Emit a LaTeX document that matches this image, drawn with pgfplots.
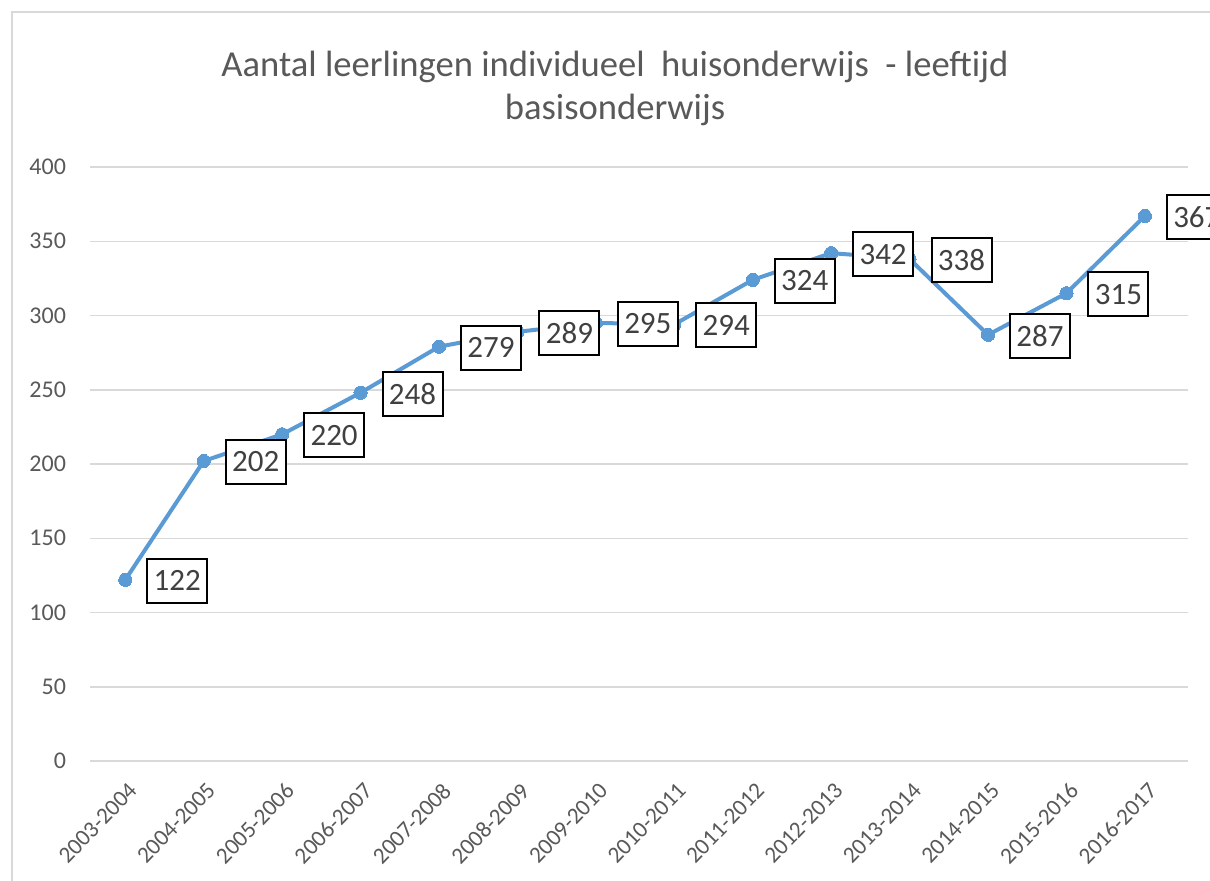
\documentclass[border=0pt]{standalone}
\usepackage{pgfplots}
\pgfplotsset{compat=1.18}
\usepackage{fontspec}
\setmainfont{Carlito}
\definecolor{linec}{HTML}{5B9BD5}
\definecolor{txt}{HTML}{595959}
\definecolor{gridc}{HTML}{D9D9D9}
\definecolor{lbl}{HTML}{404040}
\begin{document}
\begin{tikzpicture}
\useasboundingbox (0,0) rectangle (605pt,-440.5pt);
\fill[white] (0,0) rectangle (605pt,-440.5pt);
\draw[gridc, line width=1pt] (6pt,-6pt) rectangle (640pt,-480pt);
\node[align=center, text=txt, font=\fontsize{18.3}{21.5}\selectfont] at (307.5pt,-44pt)
  {Aantal leerlingen individueel\ \ huisonderwijs\ \ - leeftijd\\basisonderwijs};
\begin{axis}[
  at={(45pt,-380.5pt)}, anchor=south west,
  width=549pt, height=297pt, scale only axis,
  xmin=-0.45, xmax=13.55, ymin=0, ymax=400,
  ytick={0,50,...,400},
  xtick={0,...,13},
  xticklabels={2003-2004,2004-2005,2005-2006,2006-2007,2007-2008,2008-2009,2009-2010,2010-2011,2011-2012,2012-2013,2013-2014,2014-2015,2015-2016,2016-2017},
  axis line style={draw=none},
  major tick length=0pt,
  ymajorgrids, grid style={gridc, line width=0.75pt},
  /pgf/number format/assume math mode=true,
  yticklabel style={font=\fontsize{12}{14}\selectfont, text=txt, xshift=-8.5pt},
  xticklabel style={font=\fontsize{11.6}{13}\selectfont, text=txt, inner sep=0pt, anchor=north east, xshift=1pt, yshift=-10pt, rotate=46},
  clip=false,
]
\addplot[color=linec, line width=2pt, line join=round, mark=*, mark size=3.3pt, mark options={fill=linec, draw=linec, line width=0pt}]
coordinates {
(0,122) (1,202) (2,220) (3,248) (4,279) (5,289) (6,295) (7,294) (8,324) (9,342) (10,338) (11,287) (12,315) (13,367)
};
\addplot[draw=none, mark=none, nodes near coords,
  nodes near coords style={anchor=west, xshift=10.5pt, yshift=-0.5pt, draw=black, line width=1pt, fill=white, text=lbl, font=\fontsize{15.5}{18}\selectfont, inner xsep=3.2pt, inner ysep=0pt, minimum height=22pt}]
coordinates {
(0,122) (1,202) (2,220) (3,248) (4,279) (5,289) (6,295) (7,294) (8,324) (9,342) (10,338) (11,287) (12,315) (13,367)
};
\end{axis}
\end{tikzpicture}
\end{document}
